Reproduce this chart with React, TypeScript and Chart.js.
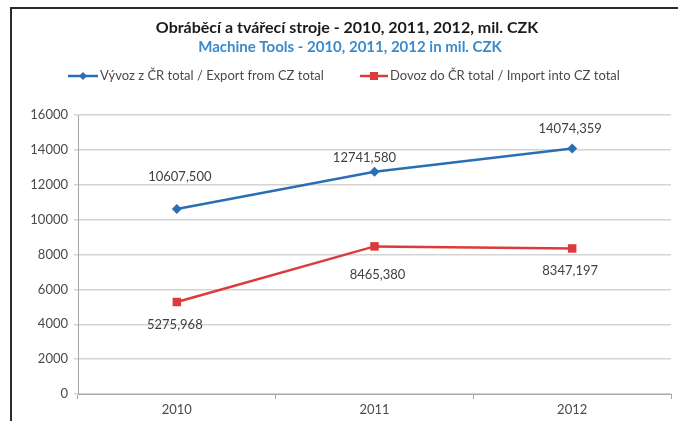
import React, { useEffect, useRef } from "react";
import { Chart, registerables } from "chart.js";

Chart.register(...registerables);

const categories = ["2010", "2011", "2012"];
const exportValues = [10607.5, 12741.58, 14074.359];
const importValues = [5275.968, 8465.38, 8347.197];
const exportLabel = "Vývoz z ČR total / Export from CZ total";
const importLabel = "Dovoz do ČR total / Import into CZ total";
const titleText = "Obráběcí a tvářecí stroje - 2010, 2011, 2012, mil. CZK";
const subtitleText = "Machine Tools - 2010, 2011, 2012 in mil. CZK";
const yMin = 0;
const yMax = 16000;
const yStep = 2000;

const BLUE = "#2a6fb3";
const RED = "#dc3a3c";
const FONT = "Lato, 'Open Sans', sans-serif";

// label offsets (style, in px) relative to each point
const exportLabelOffsets = [
  [3, -32],
  [-10, -14],
  [-2, -20],
];
const importLabelOffsets = [
  [-2, 23],
  [3, 28],
  [-2, 22],
];

const fmt = (v: number) => v.toFixed(3).replace(".", ",");

const decorPlugin = {
  id: "decor",
  beforeDraw(chart: any) {
    const ctx = chart.ctx;
    ctx.save();
    ctx.fillStyle = "#ffffff";
    ctx.fillRect(0, 0, chart.width, chart.height);
    ctx.restore();
  },
  afterDraw(chart: any) {
    const ctx = chart.ctx;
    ctx.save();
    // frame
    ctx.strokeStyle = "#2b2b2b";
    ctx.lineWidth = 2;
    ctx.beginPath();
    ctx.moveTo(11, chart.height);
    ctx.lineTo(11, 8);
    ctx.lineTo(chart.width, 8);
    ctx.stroke();

    // titles
    ctx.textAlign = "center";
    ctx.textBaseline = "middle";
    ctx.fillStyle = "#1a1a1a";
    ctx.font = `bold 16px ${FONT}`;
    ctx.fillText(titleText, 347, 28);
    ctx.fillStyle = "#3b8bcc";
    ctx.font = `bold 15px ${FONT}`;
    ctx.fillText(subtitleText, 350, 47);

    // legend
    const drawLegend = (x0: number, x1: number, y: number, color: string, marker: string, text: string) => {
      ctx.strokeStyle = color;
      ctx.lineWidth = 2.5;
      ctx.beginPath();
      ctx.moveTo(x0, y);
      ctx.lineTo(x1, y);
      ctx.stroke();
      const cx = (x0 + x1) / 2;
      ctx.fillStyle = color;
      if (marker === "diamond") {
        ctx.beginPath();
        ctx.moveTo(cx, y - 4);
        ctx.lineTo(cx + 4, y);
        ctx.lineTo(cx, y + 4);
        ctx.lineTo(cx - 4, y);
        ctx.closePath();
        ctx.fill();
      } else {
        ctx.fillRect(cx - 4, y - 4, 8, 8);
      }
      ctx.fillStyle = "#4a4a4a";
      ctx.font = `13px ${FONT}`;
      ctx.textAlign = "left";
      ctx.fillText(text, x1 + 2, y);
    };
    drawLegend(68, 98, 76, BLUE, "diamond", exportLabel);
    drawLegend(360, 388, 76, RED, "square", importLabel);

    // data labels
    ctx.font = `13px ${FONT}`;
    ctx.fillStyle = "#404040";
    ctx.textAlign = "center";
    ctx.textBaseline = "middle";
    const sets = [
      { values: exportValues, offsets: exportLabelOffsets },
      { values: importValues, offsets: importLabelOffsets },
    ];
    sets.forEach((s, di) => {
      const meta = chart.getDatasetMeta(di);
      meta.data.forEach((pt: any, i: number) => {
        const [dx, dy] = s.offsets[i];
        ctx.fillText(fmt(s.values[i]), pt.x + dx, pt.y + dy);
      });
    });
    ctx.restore();
  },
};

export default function App() {
  const ref = useRef<HTMLCanvasElement | null>(null);
  useEffect(() => {
    if (!ref.current) return;
    const chart = new Chart(ref.current, {
      type: "line",
      data: {
        labels: categories,
        datasets: [
          {
            label: exportLabel,
            data: exportValues,
            borderColor: BLUE,
            backgroundColor: BLUE,
            borderWidth: 2.5,
            pointStyle: "rectRot",
            pointRadius: 5,
            pointBorderWidth: 0,
            tension: 0,
          },
          {
            label: importLabel,
            data: importValues,
            borderColor: RED,
            backgroundColor: RED,
            borderWidth: 2.5,
            pointStyle: "rect",
            pointRadius: 6,
            pointBorderWidth: 0,
            tension: 0,
          },
        ],
      },
      options: {
        responsive: false,
        animation: false,
        layout: { padding: { top: 115, left: 0, right: 7, bottom: 0 } },
        plugins: {
          legend: { display: false },
          title: { display: false },
          tooltip: { enabled: false },
        },
        scales: {
          x: {
            offset: true,
            afterFit: (s: any) => {
              s.height = 27;
            },
            grid: {
              offset: true,
              drawOnChartArea: false,
              drawTicks: true,
              tickLength: 5,
              color: "#a6a6a6",
            },
            border: { display: true, color: "#a6a6a6", width: 1 },
            ticks: {
              color: "#4a4a4a",
              font: { family: FONT, size: 13 },
              padding: 3,
            },
          },
          y: {
            min: yMin,
            max: yMax,
            afterFit: (s: any) => {
              s.width = 78;
            },
            ticks: {
              stepSize: yStep,
              color: "#4a4a4a",
              font: { family: FONT, size: 13 },
              padding: 6,
              callback: (v: any) => String(v),
            },
            grid: {
              color: "#d4d4d4",
              lineWidth: 1.5,
              tickLength: 4,
            },
            border: { display: true, color: "#a6a6a6", width: 1 },
          },
        },
      },
      plugins: [decorPlugin],
    });
    return () => chart.destroy();
  }, []);
  return (
    <div style={{ position: "absolute", left: 0, top: 0, width: 678, height: 421, background: "#fff" }}>
      <canvas ref={ref} width={678} height={421} style={{ display: "block" }} />
    </div>
  );
}
